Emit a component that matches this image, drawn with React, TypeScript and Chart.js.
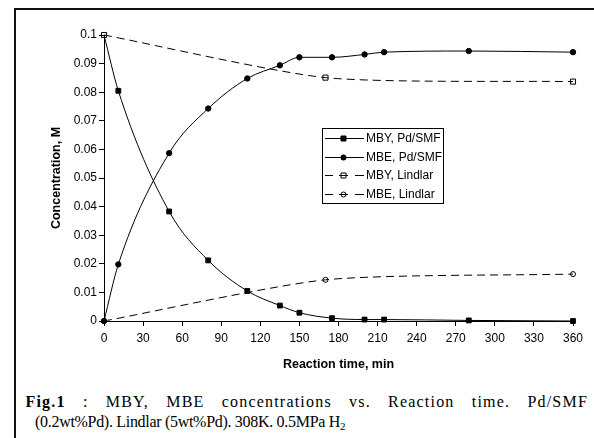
import React, { useEffect, useRef } from "react";
import { Chart, registerables } from "chart.js";

Chart.register(...registerables);

// ---- data ----
const timeSMF = [0, 11, 50, 80, 110, 135, 150, 175, 200, 215, 280, 360];
const mbySMF = [0.1, 0.0805, 0.0383, 0.0212, 0.0105, 0.0054, 0.0029, 0.001, 0.0005, 0.0005, 0.0002, 0];
const mbeSMF = [0, 0.0198, 0.0587, 0.0743, 0.0848, 0.0894, 0.0922, 0.0922, 0.0932, 0.094, 0.0944, 0.094];
const timeLindlar = [0, 170, 360];
const mbyLindlar = [0.1, 0.0851, 0.0837];
const mbeLindlar = [0, 0.0144, 0.0164];
const seriesLabels = ["MBY, Pd/SMF", "MBE, Pd/SMF", "MBY, Lindlar", "MBE, Lindlar"];
const xTickLabels = ["0", "30", "60", "90", "120", "150", "180", "210", "240", "270", "300", "330", "360"];
const yTickLabels = ["0", "0.01", "0.02", "0.03", "0.04", "0.05", "0.06", "0.07", "0.08", "0.09", "0.1"];
const xTitle = "Reaction time, min";
const yTitle = "Concentration, M";

const SANS = "'Liberation Sans', Arial, sans-serif";

const boxLegend = {
  id: "boxLegend",
  afterDraw(chart: any) {
    const ctx = chart.ctx as CanvasRenderingContext2D;
    const left = 322, top = 128, w = 122, h = 76;
    ctx.save();
    ctx.fillStyle = "#fff";
    ctx.fillRect(left, top, w, h);
    ctx.strokeStyle = "#000";
    ctx.lineWidth = 1;
    ctx.setLineDash([]);
    ctx.strokeRect(left + 0.5, top + 0.5, w - 1, h - 1);
    const dsets = chart.data.datasets;
    dsets.forEach((ds: any, i: number) => {
      const cy = Math.round(top + 10 + i * 18.7) + 0.5;
      ctx.strokeStyle = "#000";
      ctx.lineWidth = 1;
      ctx.beginPath();
      if (ds.borderDash) {
        ctx.moveTo(325, cy);
        ctx.lineTo(333, cy);
        ctx.moveTo(339, cy);
        ctx.lineTo(348, cy);
        ctx.moveTo(355, cy);
        ctx.lineTo(364, cy);
      } else {
        ctx.moveTo(325, cy);
        ctx.lineTo(364, cy);
      }
      ctx.stroke();
      const mx = 343.5;
      const filled = ds.pointBackgroundColor === "#000";
      ctx.beginPath();
      if (ds.pointStyle === "rect") {
        const s = 2.5;
        ctx.rect(mx - s, cy - s, 2 * s, 2 * s);
      } else {
        ctx.arc(mx, cy, filled ? 2.6 : 2.5, 0, Math.PI * 2);
      }
      if (filled) {
        ctx.fillStyle = "#000";
        ctx.fill();
      }
      ctx.stroke();
      ctx.fillStyle = "#000";
      ctx.font = "12px " + SANS;
      ctx.textBaseline = "middle";
      ctx.textAlign = "left";
      ctx.fillText(ds.label, 366, cy);
    });
    ctx.restore();
  },
};

export default function App() {
  const ref = useRef<HTMLCanvasElement>(null);

  useEffect(() => {
    if (!ref.current) return;
    Chart.defaults.font.family = SANS;
    const common = {
      borderColor: "#000",
      borderWidth: 1,
      pointBorderColor: "#000",
      pointBorderWidth: 1,
      clip: false as any,
      fill: false,
    };
    const chart = new Chart(ref.current, {
      type: "line",
      data: {
        datasets: [
          {
            ...common,
            label: seriesLabels[0],
            data: timeSMF.map((x, i) => ({ x, y: mbySMF[i] })),
            cubicInterpolationMode: "monotone",
            pointStyle: "rect",
            pointRadius: timeSMF.map((_, i) => (i === 0 ? 0 : 3.4)),
            pointBackgroundColor: "#000",
            order: 1,
          },
          {
            ...common,
            label: seriesLabels[1],
            data: timeSMF.map((x, i) => ({ x, y: mbeSMF[i] })),
            cubicInterpolationMode: "monotone",
            pointStyle: "circle",
            pointRadius: 2.7,
            pointBackgroundColor: "#000",
            order: 1,
          },
          {
            ...common,
            label: seriesLabels[2],
            data: timeLindlar.map((x, i) => ({ x, y: mbyLindlar[i] })),
            tension: 0.22,
            borderDash: [8, 5],
            pointStyle: "rect",
            pointRadius: 3.6,
            pointBackgroundColor: "rgba(0,0,0,0)",
            order: 0,
          },
          {
            ...common,
            label: seriesLabels[3],
            data: timeLindlar.map((x, i) => ({ x, y: mbeLindlar[i] })),
            tension: 0.22,
            borderDash: [8, 5],
            pointStyle: "circle",
            pointRadius: 2.5,
            pointBackgroundColor: "rgba(0,0,0,0)",
            order: 0,
          },
        ] as any,
      },
      options: {
        animation: false,
        responsive: false,
        events: [],
        layout: { padding: { left: 14, top: 35, right: 21, bottom: 6 } },
        plugins: { legend: { display: false }, tooltip: { enabled: false } },
        scales: {
          x: {
            type: "linear",
            min: 0,
            max: 360,
            ticks: {
              stepSize: 30,
              autoSkip: false,
              maxRotation: 0,
              padding: 5,
              color: "#000",
              font: { size: 12 },
              callback: (_v: any, i: number) => xTickLabels[i] ?? "",
            },
            grid: { drawOnChartArea: false, drawTicks: true, tickLength: 5, color: "#000" },
            border: { color: "#000", width: 1 },
            title: {
              display: true,
              text: xTitle,
              color: "#000",
              font: { size: 12.5, weight: "bold" },
              padding: { top: 0, bottom: 1.5 },
            },
            afterFit: (s: any) => {
              s.height = 53;
            },
          },
          y: {
            type: "linear",
            min: 0,
            max: 0.1,
            ticks: {
              stepSize: 0.01,
              autoSkip: false,
              padding: 2,
              color: "#000",
              font: { size: 12 },
              callback: (_v: any, i: number) => yTickLabels[i] ?? "",
            },
            grid: { drawOnChartArea: false, drawTicks: true, tickLength: 5, color: "#000" },
            border: { color: "#000", width: 1 },
            title: {
              display: true,
              text: yTitle,
              color: "#000",
              font: { size: 12.5, weight: "bold" },
              padding: { top: 35.5, bottom: 0 },
            },
            afterFit: (s: any) => {
              s.width = 90;
            },
          },
        },
      } as any,
      plugins: [boxLegend],
    });
    return () => chart.destroy();
  }, []);

  return (
    <div
      style={{
        position: "fixed",
        left: 0,
        top: 0,
        width: 594,
        height: 438,
        overflow: "hidden",
        background: "#fff",
      }}
    >
      <div
        style={{
          position: "absolute",
          left: 14,
          top: 8,
          width: 700,
          height: 600,
          borderLeft: "2px solid #111",
          borderTop: "2px solid #111",
        }}
      />
      <canvas
        ref={ref}
        width={594}
        height={380}
        style={{ position: "absolute", left: 0, top: 0, width: 594, height: 380 }}
      />
      <div
        style={{
          position: "absolute",
          left: 25.5,
          top: 392,
          width: 562.5,
          fontFamily: "'Liberation Serif', 'Times New Roman', serif",
          fontSize: 16,
          lineHeight: "20px",
          color: "#000",
        }}
      >
        <div
          style={{
            textAlign: "justify",
            textAlignLast: "justify" as any,
            whiteSpace: "nowrap",
            letterSpacing: "1.2px",
          }}
        >
          <b>Fig.1</b> : MBY, MBE concentrations vs. Reaction time. Pd/SMF
        </div>
        <div style={{ paddingLeft: 9.5, whiteSpace: "nowrap", letterSpacing: "-0.3px" }}>
          (0.2wt%Pd). Lindlar (5wt%Pd). 308K. 0.5MPa H
          <sub style={{ fontSize: 11, verticalAlign: "-3px", lineHeight: 0 }}>2</sub>
        </div>
      </div>
    </div>
  );
}
